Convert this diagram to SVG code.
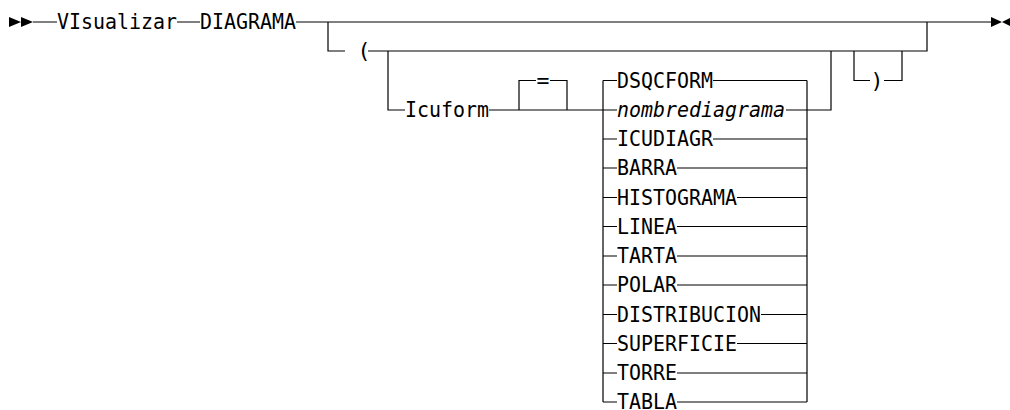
<svg xmlns="http://www.w3.org/2000/svg" width="1010" height="410" viewBox="0 0 1010 410">
<style>
text{font-family:"DejaVu Sans Mono","Liberation Mono",monospace;font-size:21.5px;fill:#000}
.it{font-style:italic}
.ln{fill:none;stroke:#000;stroke-width:1.2}
.ah{fill:#000}
</style>
<rect width="1010" height="410" fill="#fff"/>
<g id="connectors">
<path class="ah" d="M9,17 L21,22 L9,27 Z M21,17 L33,22 L21,27 Z"/>
<path class="ah" d="M991,17 L1002,22 L991,27 Z M1012,17 L1002,22 L1012,27 Z"/>
<path class="ln" d="M33,22 H57 M177,22 H200 M296,22 H991"/>
<path class="ln" d="M328,22 V51 H345 M368,51 H927 V22"/>
<path class="ln" d="M388,51 V110 H405 M489,110 H603"/>
<path class="ln" d="M519,110 V80.5 H536 M550,80.5 H567 V110"/>
<path class="ln" d="M603,80.5 V402 M807,80.5 V402 M807,110 H831 V51"/>
<path class="ln" d="M854,51 V80.5 H870 M884,80.5 H902 V51"/>
<path class="ln" d="M603,80.5 H617 M713,80.5 H807"/>
<path class="ln" d="M603,110 H617 M786,110 H807"/>
<path class="ln" d="M603,139 H617 M713,139 H807"/>
<path class="ln" d="M603,168 H617 M677,168 H807"/>
<path class="ln" d="M603,197.5 H617 M737,197.5 H807"/>
<path class="ln" d="M603,226.5 H617 M677,226.5 H807"/>
<path class="ln" d="M603,256 H617 M677,256 H807"/>
<path class="ln" d="M603,285 H617 M677,285 H807"/>
<path class="ln" d="M603,314.5 H617 M761,314.5 H807"/>
<path class="ln" d="M603,343.5 H617 M737,343.5 H807"/>
<path class="ln" d="M603,373 H617 M677,373 H807"/>
<path class="ln" d="M603,402 H617 M677,402 H807"/>
</g>
<g id="n-visualizar"><text x="57" y="29" textLength="120" lengthAdjust="spacingAndGlyphs">VIsualizar</text></g>
<g id="n-diagrama"><text x="200" y="29" textLength="96" lengthAdjust="spacingAndGlyphs">DIAGRAMA</text></g>
<g id="n-lparen"><text x="364" y="58" text-anchor="middle">(</text></g>
<g id="n-icuform"><text x="405" y="117" textLength="84" lengthAdjust="spacingAndGlyphs">Icuform</text></g>
<g id="n-eq"><text x="543" y="87.5" text-anchor="middle">=</text></g>
<g id="n-rparen"><text x="877" y="87.5" text-anchor="middle">)</text></g>
<g id="n-dsqcform"><text x="617" y="87.5" textLength="96" lengthAdjust="spacingAndGlyphs">DSQCFORM</text></g>
<g id="n-nombrediagrama"><text class="it" x="617" y="117" textLength="168" lengthAdjust="spacingAndGlyphs">nombrediagrama</text></g>
<g id="n-icudiagr"><text x="617" y="146" textLength="96" lengthAdjust="spacingAndGlyphs">ICUDIAGR</text></g>
<g id="n-barra"><text x="617" y="175" textLength="60" lengthAdjust="spacingAndGlyphs">BARRA</text></g>
<g id="n-histograma"><text x="617" y="204.5" textLength="120" lengthAdjust="spacingAndGlyphs">HISTOGRAMA</text></g>
<g id="n-linea"><text x="617" y="233.5" textLength="60" lengthAdjust="spacingAndGlyphs">LINEA</text></g>
<g id="n-tarta"><text x="617" y="263" textLength="60" lengthAdjust="spacingAndGlyphs">TARTA</text></g>
<g id="n-polar"><text x="617" y="292" textLength="60" lengthAdjust="spacingAndGlyphs">POLAR</text></g>
<g id="n-distribucion"><text x="617" y="321.5" textLength="144" lengthAdjust="spacingAndGlyphs">DISTRIBUCION</text></g>
<g id="n-superficie"><text x="617" y="350.5" textLength="120" lengthAdjust="spacingAndGlyphs">SUPERFICIE</text></g>
<g id="n-torre"><text x="617" y="380" textLength="60" lengthAdjust="spacingAndGlyphs">TORRE</text></g>
<g id="n-tabla"><text x="617" y="408.5" textLength="60" lengthAdjust="spacingAndGlyphs">TABLA</text></g>
</svg>
